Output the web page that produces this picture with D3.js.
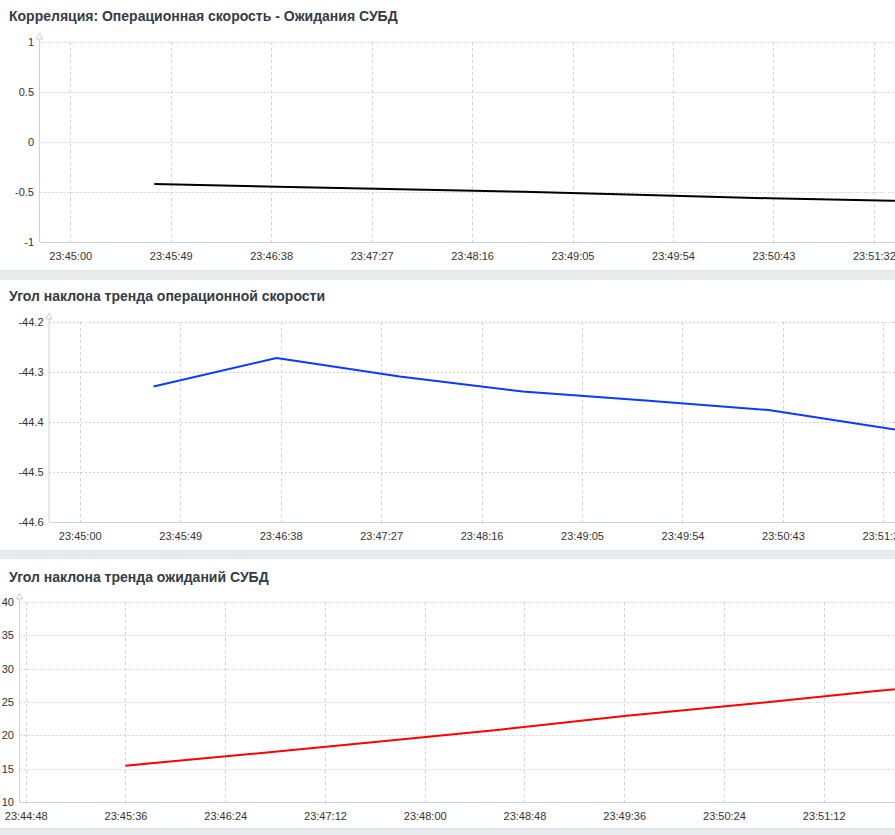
<!DOCTYPE html>
<html>
<head>
<meta charset="utf-8">
<script src="https://cdn.jsdelivr.net/npm/d3@7"></script>
<style>
  html, body { margin: 0; padding: 0; background: #fff; }
  svg { display: block; font-family: "Liberation Sans", Arial, sans-serif; }
</style>
</head>
<body>
<svg id="chart" width="895" height="835"></svg>
<script>
// ---------- DATA ----------
const titles = [
  "Корреляция: Операционная скорость - Ожидания СУБД",
  "Угол наклона тренда операционной скорости",
  "Угол наклона тренда ожиданий СУБД"
];

const corrTimes  = ["23:45:41","23:46:41","23:47:41","23:48:41","23:49:41","23:50:41","23:51:41","23:52:41"];
const corrValues = [-0.42, -0.447, -0.473, -0.497, -0.53, -0.563, -0.587, -0.61];

const speedTimes  = ["23:45:36","23:46:36","23:47:36","23:48:36","23:49:36","23:50:36","23:51:36","23:52:36"];
const speedValues = [-44.329, -44.272, -44.309, -44.339, -44.357, -44.376, -44.414, -44.45];

const waitTimes  = ["23:45:36","23:46:36","23:47:36","23:48:36","23:49:36","23:50:36","23:51:36","23:52:36"];
const waitValues = [15.45, 17.2, 19.0, 20.85, 22.9, 24.7, 26.6, 28.4];

const xTicks1 = ["23:45:00","23:45:49","23:46:38","23:47:27","23:48:16","23:49:05","23:49:54","23:50:43","23:51:32"];
const xTicks2 = ["23:45:00","23:45:49","23:46:38","23:47:27","23:48:16","23:49:05","23:49:54","23:50:43","23:51:32"];
const xTicks3 = ["23:44:48","23:45:36","23:46:24","23:47:12","23:48:00","23:48:48","23:49:36","23:50:24","23:51:12"];

const yTicks1 = [-1, -0.5, 0, 0.5, 1];
const yTicks2 = [-44.6, -44.5, -44.4, -44.3, -44.2];
const yTicks3 = [10, 15, 20, 25, 30, 35, 40];

const timeDomain = ["23:44:45", "23:52:14"];

// ---------- LAYOUT ----------
const W = 895;
const parse = d3.timeParse("%H:%M:%S");
const svg = d3.select("#chart");
const hy = s => s.replace("\u2212", "-");

// gray separator bands
const bands = [[270, 280], [550, 559], [828, 835]];
svg.selectAll("rect.band").data(bands).enter().append("rect")
  .attr("class", "band")
  .attr("x", 0).attr("width", W)
  .attr("y", d => d[0]).attr("height", d => d[1] - d[0])
  .attr("fill", "#e8ebee");
svg.selectAll("line.bandtop").data(bands).enter().append("line")
  .attr("x1", 0).attr("x2", W)
  .attr("y1", d => d[0] + 0.5).attr("y2", d => d[0] + 0.5)
  .attr("stroke", "#dde1e5");

const panels = [
  { title: titles[0], titleY: 21, axisX: 39.5, rangeRight: 960, yTop: 42, yBottom: 242,
    yDomain: [-1, 1], yTicks: yTicks1, yFmt: d => hy(d3.format("")(d)),
    xTicks: xTicks1, labelY: 256, times: corrTimes, values: corrValues, color: "#000000" },
  { title: titles[1], titleY: 301, axisX: 49, rangeRight: 969.5, yTop: 322, yBottom: 522,
    yDomain: [-44.6, -44.2], yTicks: yTicks2, yFmt: d => hy(d3.format(".1f")(d)),
    xTicks: xTicks2, labelY: 536, times: speedTimes, values: speedValues, color: "#0a3cff" },
  { title: titles[2], titleY: 582, axisX: 19.5, rangeRight: 952.5, yTop: 602, yBottom: 802,
    yDomain: [10, 40], yTicks: yTicks3, yFmt: d => hy(d3.format("")(d)),
    xTicks: xTicks3, labelY: 816, times: waitTimes, values: waitValues, color: "#ff0000" }
];

panels.forEach(p => {
  const g = svg.append("g");
  const x = d3.scaleTime().domain(timeDomain.map(parse)).range([p.axisX, p.rangeRight]);
  const y = d3.scaleLinear().domain(p.yDomain).range([p.yBottom, p.yTop]);

  // title
  g.append("text")
    .attr("x", 9).attr("y", p.titleY)
    .attr("font-size", 14).attr("font-weight", "bold")
    .attr("fill", "#333c45")
    .text(p.title);

  // horizontal grid
  g.selectAll("line.hgrid").data(p.yTicks.filter(v => v !== p.yDomain[0])).enter().append("line")
    .attr("x1", p.axisX).attr("x2", W)
    .attr("y1", d => Math.round(y(d)) + 0.5).attr("y2", d => Math.round(y(d)) + 0.5)
    .attr("stroke", "#cfd3d6").attr("stroke-dasharray", "2,2");

  // vertical grid
  g.selectAll("line.vgrid").data(p.xTicks).enter().append("line")
    .attr("x1", d => Math.round(x(parse(d))) + 0.5).attr("x2", d => Math.round(x(parse(d))) + 0.5)
    .attr("y1", p.yTop).attr("y2", p.yBottom)
    .attr("stroke", "#cfd3d6").attr("stroke-dasharray", "3,3");

  // x axis
  const xAxis = d3.axisBottom(x)
    .tickValues(p.xTicks.map(parse))
    .tickFormat(d3.timeFormat("%H:%M:%S"))
    .tickSize(0).tickPadding(0);
  const xg = g.append("g").attr("transform", `translate(0,${p.yBottom})`).call(xAxis);
  xg.select(".domain").remove();
  xg.selectAll("text")
    .attr("y", p.labelY - p.yBottom).attr("dy", "0.35em")
    .attr("font-size", 11).attr("fill", "#333").attr("font-family", "Liberation Sans, Arial, sans-serif");
  g.append("line")
    .attr("x1", p.axisX).attr("x2", W)
    .attr("y1", p.yBottom + 0.5).attr("y2", p.yBottom + 0.5)
    .attr("stroke", "#ccd3da");

  // y axis
  const yAxis = d3.axisLeft(y).tickValues(p.yTicks).tickFormat(p.yFmt).tickSize(0).tickPadding(0);
  const yg = g.append("g").attr("transform", `translate(${p.axisX - 5.5},0)`).call(yAxis);
  yg.select(".domain").remove();
  yg.selectAll("text")
    .attr("x", 0)
    .attr("font-size", 11).attr("fill", "#333").attr("font-family", "Liberation Sans, Arial, sans-serif");
  g.append("line")
    .attr("x1", p.axisX).attr("x2", p.axisX)
    .attr("y1", p.yTop - 4).attr("y2", p.yBottom)
    .attr("stroke", "#ccd3da");
  // arrow
  g.append("path")
    .attr("d", `M${p.axisX - 3},${p.yTop - 3} L${p.axisX},${p.yTop - 9} L${p.axisX + 3},${p.yTop - 3} Z`)
    .attr("fill", "#fff").attr("stroke", "#c8ced4");

  // data line
  const pts = p.times.map((t, i) => [parse(t), p.values[i]]);
  g.append("path")
    .datum(pts)
    .attr("fill", "none")
    .attr("stroke", p.color)
    .attr("stroke-width", 2)
    .attr("stroke-linejoin", "round")
    .attr("d", d3.line().x(d => x(d[0])).y(d => y(d[1])));
});
</script>
</body>
</html>
